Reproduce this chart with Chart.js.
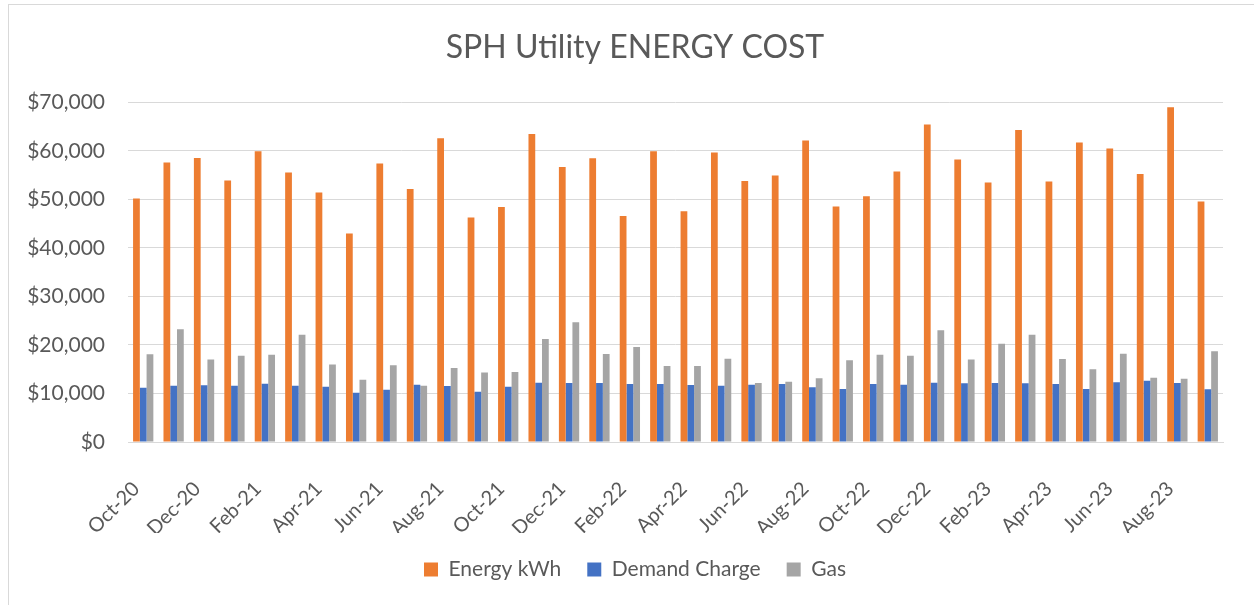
<!DOCTYPE html>
<html>
<head>
<meta charset="utf-8">
<title>SPH Utility ENERGY COST</title>
<script src="https://cdn.jsdelivr.net/npm/chart.js@4.4.1/dist/chart.umd.min.js"></script>
<style>
  html, body { margin: 0; padding: 0; background: #ffffff; overflow: hidden; width: 1254px; height: 605px; }
  #frame { position: absolute; left: 8px; top: 4px; width: 1300px; height: 700px; border: 1px solid #d9d9d9; box-sizing: border-box; }
  #chart { position: absolute; left: 0; top: 0; }
</style>
</head>
<body>
<div id="frame"></div>
<canvas id="chart" width="1270" height="605"></canvas>
<script>
// Monthly utility costs, Oct 2020 – Sep 2023
const months = [
  'Oct-20', 'Nov-20', 'Dec-20', 'Jan-21', 'Feb-21', 'Mar-21', 'Apr-21', 'May-21', 'Jun-21',
  'Jul-21', 'Aug-21', 'Sep-21', 'Oct-21', 'Nov-21', 'Dec-21', 'Jan-22', 'Feb-22', 'Mar-22',
  'Apr-22', 'May-22', 'Jun-22', 'Jul-22', 'Aug-22', 'Sep-22', 'Oct-22', 'Nov-22', 'Dec-22',
  'Jan-23', 'Feb-23', 'Mar-23', 'Apr-23', 'May-23', 'Jun-23', 'Jul-23', 'Aug-23', 'Sep-23'
];

const energyKwh = [
  50170, 57590, 58560, 53880, 59930, 55530, 51410, 42960, 57390,
  52160, 62610, 46250, 48450, 63510, 56700, 58490, 46600, 59930,
  47560, 59660, 53810, 54910, 62130, 48520, 50650, 55740, 65430,
  58210, 53470, 64330, 53680, 61720, 60480, 55260, 69000, 49550
];

const demandCharge = [
  11200, 11620, 11680, 11620, 12030, 11620, 11410, 10170, 10790,
  11820, 11550, 10380, 11410, 12230, 12160, 12160, 11960, 11960,
  11750, 11620, 11820, 11960, 11270, 10930, 11960, 11820, 12230,
  12100, 12160, 12100, 11960, 10930, 12300, 12650, 12160, 10860
];

const gas = [
  18080, 23230, 16980, 17800, 18010, 22130, 15950, 12850, 15810,
  11620, 15260, 14300, 14430, 21240, 24670, 18140, 19590, 15670,
  15670, 17180, 12160, 12440, 13130, 16840, 18010, 17800, 23020,
  16980, 20270, 22130, 17110, 14980, 18210, 13260, 13060, 18690
];

const yTicks = { min: 0, max: 70000, step: 10000 };

const FONT = 'Lato, "Open Sans", sans-serif';
const TEXT = '#595959';

new Chart(document.getElementById('chart'), {
  type: 'bar',
  data: {
    labels: months,
    datasets: [
      { label: 'Energy kWh', data: energyKwh, backgroundColor: '#ED7D31' },
      { label: 'Demand Charge', data: demandCharge, backgroundColor: '#4472C4' },
      { label: 'Gas', data: gas, backgroundColor: '#A5A5A5' }
    ]
  },
  options: {
    responsive: false,
    devicePixelRatio: 1,
    animation: false,
    layout: { padding: { left: 0, right: 0, top: 0, bottom: 15 } },
    datasets: {
      bar: { barPercentage: 1.0, categoryPercentage: 0.667, borderWidth: 0 }
    },
    plugins: {
      title: {
        display: true,
        text: 'SPH Utility ENERGY COST',
        color: TEXT,
        font: { family: FONT, size: 32, weight: 'normal', lineHeight: 1.2 },
        padding: { top: 28, bottom: 36 }
      },
      legend: {
        display: true,
        position: 'bottom',
        labels: {
          color: TEXT,
          font: { family: FONT, size: 21 },
          boxWidth: 14,
          boxHeight: 14,
          padding: 26
        }
      },
      tooltip: { enabled: false }
    },
    scales: {
      x: {
        grid: { display: false },
        border: { display: true, color: '#d9d9d9' },
        ticks: {
          autoSkip: false,
          minRotation: 45,
          maxRotation: 45,
          padding: 27,
          labelOffset: -7,
          color: TEXT,
          font: { family: FONT, size: 20 },
          callback: function (value, index) {
            return index % 2 === 0 ? months[index] : '';
          }
        },
        afterFit: function (scale) { scale.height = 91; }
      },
      y: {
        min: yTicks.min,
        max: yTicks.max,
        grid: { color: '#d9d9d9', lineWidth: 1, drawTicks: false },
        border: { display: false },
        ticks: {
          stepSize: yTicks.step,
          padding: 23,
          color: TEXT,
          font: { family: FONT, size: 21 },
          callback: function (value) {
            return '$' + value.toLocaleString('en-US');
          }
        },
        afterFit: function (scale) { scale.width = 128; }
      },
      // empty margin on the right of the plot area
      yRight: {
        position: 'right',
        min: yTicks.min,
        max: yTicks.max,
        grid: { display: false, drawTicks: false },
        border: { display: false },
        ticks: { display: false },
        afterFit: function (scale) { scale.width = 47; }
      }
    }
  }
});
</script>
</body>
</html>
